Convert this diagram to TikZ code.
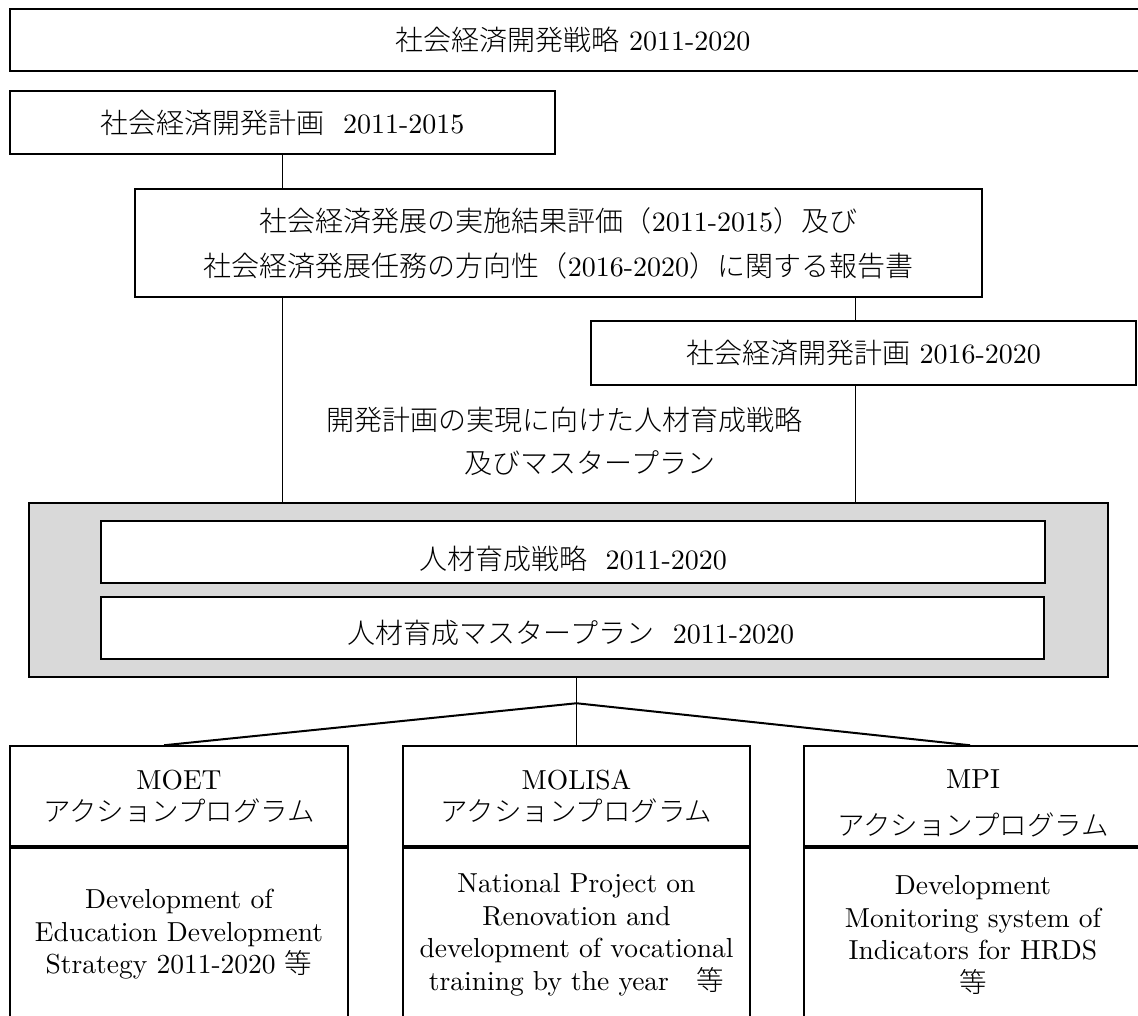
\documentclass[tikz,border=0pt]{standalone}
\usepackage{fontspec}
\setmainfont{lmroman10-regular}[Extension=.otf]
\IfFontExistsTF{Noto Sans CJK JP Light}
  {\newfontfamily\jpfont{Noto Sans CJK JP Light}}
  {\newfontfamily\jpfont{Noto Sans CJK JP}}
\newcommand\jp[1]{{\jpfont #1}}
\usetikzlibrary{calc}
\definecolor{panelgrey}{HTML}{D9D9D9}
\begin{document}
\begin{tikzpicture}[x=1pt,y=-1pt,
  box/.style={draw, line width=1.5pt, fill=white, inner sep=0pt, align=center,
              font=\fontsize{28}{42}\selectfont},
  panel/.style={draw, line width=1.3pt, fill=panelgrey, inner sep=0pt},
  txt/.style={inner sep=0pt, align=center, font=\fontsize{28}{42}\selectfont},
  smalltxt/.style={inner sep=0pt, align=center, font=\fontsize{27.5}{32.5}\selectfont},
  link/.style={line width=1.2pt},
  branch/.style={line width=2pt}
]
\useasboundingbox (0,0) rectangle (1138,1016);
\clip (0,0) rectangle (1138,1016);

% strategy and plans
\node[box, minimum width=1140pt, minimum height=62pt] (strat) at (580,40) {};
\node[txt] (stratlabel) at (573,40) {\jp{社会経済開発戦略} 2011-2020};

\node[box, minimum width=545pt, minimum height=63pt] (plan1) at (282.5,122.5)
  {\jp{社会経済開発計画}\ \ 2011-2015};

\node[box, minimum width=847pt, minimum height=108pt] (report) at (558.5,243)
  {\jp{社会経済発展の実施結果評価（}2011-2015\jp{）及び}\\[3pt]
   \jp{社会経済発展任務の方向性（}2016-2020\jp{）に関する報告書}};

\node[box, minimum width=545pt, minimum height=64pt] (plan2) at (863.5,353)
  {\jp{社会経済開発計画} 2016-2020};

\node[txt] (hrlabel) at (564,441.5)
  {\jp{開発計画の実現に向けた人材育成戦略}\\[1pt]
   \hspace*{52pt}\jp{及びマスタープラン}};

% human resources panel
\node[panel, minimum width=1079pt, minimum height=174pt] (panel) at (568.5,590) {};
\node[box, minimum width=944pt, minimum height=62pt] (hrs) at (573,552) {};
\node[txt] (hrslabel) at (573,559) {\jp{人材育成戦略}\ \ 2011-2020};
\node[box, minimum width=943pt, minimum height=62pt] (hrm) at (572.5,628) {};
\node[txt] (hrmlabel) at (571,633) {\jp{人材育成マスタープラン}\ \ 2011-2020};

% ministry action programmes
\node[box, minimum width=338pt, minimum height=100pt] (moet) at (179,796) {};
\node[box, minimum width=338pt, minimum height=190pt] (moetbody) at (179,943) {};
\node[box, minimum width=347pt, minimum height=100pt] (molisa) at (576.5,796) {};
\node[box, minimum width=347pt, minimum height=190pt] (molisabody) at (576.5,943) {};
\node[box, minimum width=338pt, minimum height=100pt] (mpi) at (973,796) {};
\node[box, minimum width=338pt, minimum height=190pt] (mpibody) at (973,943) {};

\node[smalltxt] (moetlabel) at (179,796.5) {MOET\\\jp{アクションプログラム}};
\node[smalltxt] (molisalabel) at (576.5,796.5) {MOLISA\\\jp{アクションプログラム}};
\node[smalltxt] (mpilabel) at (973,803.5) {MPI\\[14pt]\jp{アクションプログラム}};

\node[smalltxt] (moettext) at (179,934.5)
  {Development of\\Education Development\\Strategy 2011-2020 \jp{等}};
\node[smalltxt] (molisatext) at (576.5,935)
  {National Project on\\Renovation and\\development of vocational\\training by the year\jp{　等}};
\node[smalltxt] (mpitext) at (973,935)
  {Development\\Monitoring system of\\Indicators for HRDS\\\jp{等}};

% connectors
\draw[link] (plan1.south) -- (plan1.south |- report.north);
\draw[link] (plan1.south |- report.south) -- (plan1.south |- panel.north);
\coordinate (p2in) at ($(plan2.north west)!0.486!(plan2.north east)$);
\draw[link] (p2in |- report.south) -- (p2in);
\draw[link] (p2in |- plan2.south) -- (p2in |- panel.north);

\coordinate (J) at ($(molisa.north)+(0,-42)$);
\coordinate (moetin) at ($(moet.north west)!0.456!(moet.north east)$);
\coordinate (mpiin) at ($(mpi.north)+(-3,0)$);
\draw[link] (molisa.north |- panel.south) -- (molisa.north);
\draw[branch] (moetin) -- (J) -- (mpiin);
\end{tikzpicture}
\end{document}
